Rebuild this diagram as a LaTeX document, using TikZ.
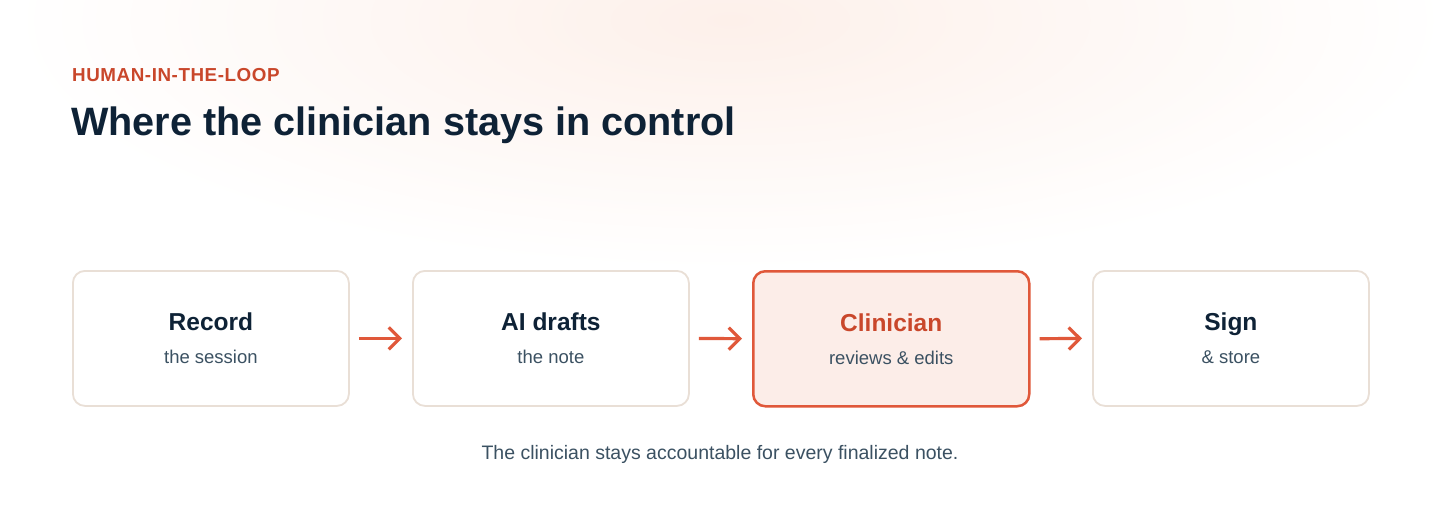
\documentclass[tikz,border=0pt]{standalone}
\usepackage{fontspec}
\setmainfont{Liberation Sans}
\usetikzlibrary{arrows.meta}
\definecolor{navy}{HTML}{0E2236}
\definecolor{accent}{HTML}{E0583A}
\definecolor{accentdark}{HTML}{C9472B}
\definecolor{boxline}{HTML}{E9DFD6}
\definecolor{hlfill}{HTML}{FCEDE8}
\definecolor{subtext}{HTML}{3B5162}
\definecolor{peach}{HTML}{FDF0EA}
\begin{document}
\begin{tikzpicture}[x=1pt,y=-1pt,
 stepbox/.style={draw=boxline,line width=1.8pt,rounded corners=12pt,fill=white,minimum width=276pt,minimum height=135pt,inner sep=0pt,anchor=north west},
 hlbox/.style={stepbox,draw=accent,fill=hlfill,line width=2.5pt},
 steptitle/.style={anchor=base,inner sep=0pt,font=\fontsize{24.5}{28}\selectfont\bfseries,text=navy},
 stepsub/.style={anchor=base,inner sep=0pt,font=\fontsize{18.5}{22}\selectfont,text=subtext},
 flow/.style={draw=accent,line width=3.2pt,shorten <=9pt,shorten >=10pt,-{Straight Barb[length=11pt,width=22pt,line width=3.2pt]}}]
\useasboundingbox[fill=white] (0,0) rectangle (1440,504);
\begin{scope}
\clip (0,0) rectangle (1440,504);
\shade[inner color=peach,outer color=white] (730,20) ellipse (720 and 250);
\end{scope}
\node[anchor=base west,inner sep=0pt,font=\fontsize{18.8}{22}\selectfont\bfseries\addfontfeature{LetterSpace=3},text=accentdark] (kicker) at (72,81) {HUMAN-IN-THE-LOOP};
\node[anchor=base west,inner sep=0pt,font=\fontsize{39.6}{46}\selectfont\bfseries,text=navy] (title) at (71,135) {Where the clinician stays in control};

\node[stepbox] (b1) at (72,270) {};
\node[stepbox] (b2) at (412,270) {};
\node[hlbox] (b3) at (752,270) {};
\node[stepbox] (b4) at (1092,270) {};

\node[steptitle] (t1) at ([yshift=7.5pt]b1.center) {Record};
\node[stepsub] (s1) at ([yshift=-25.5pt]b1.center) {the session};
\node[steptitle] (t2) at ([yshift=7.5pt]b2.center) {AI drafts};
\node[stepsub] (s2) at ([yshift=-25.5pt]b2.center) {the note};
\node[steptitle,text=accentdark] (t3) at ([yshift=7.5pt]b3.center) {Clinician};
\node[stepsub] (s3) at ([yshift=-25.5pt]b3.center) {reviews \& edits};
\node[steptitle] (t4) at ([yshift=7.5pt]b4.center) {Sign};
\node[stepsub] (s4) at ([yshift=-25.5pt]b4.center) {\& store};

\draw[flow] (b1.east) -- (b2.west);
\draw[flow] (b2.east) -- (b3.west);
\draw[flow] (b3.east) -- (b4.west);

\node[anchor=base,inner sep=0pt,font=\fontsize{19.5}{23}\selectfont,text=subtext] (foot) at (720,459) {The clinician stays accountable for every finalized note.};
\end{tikzpicture}
\end{document}
